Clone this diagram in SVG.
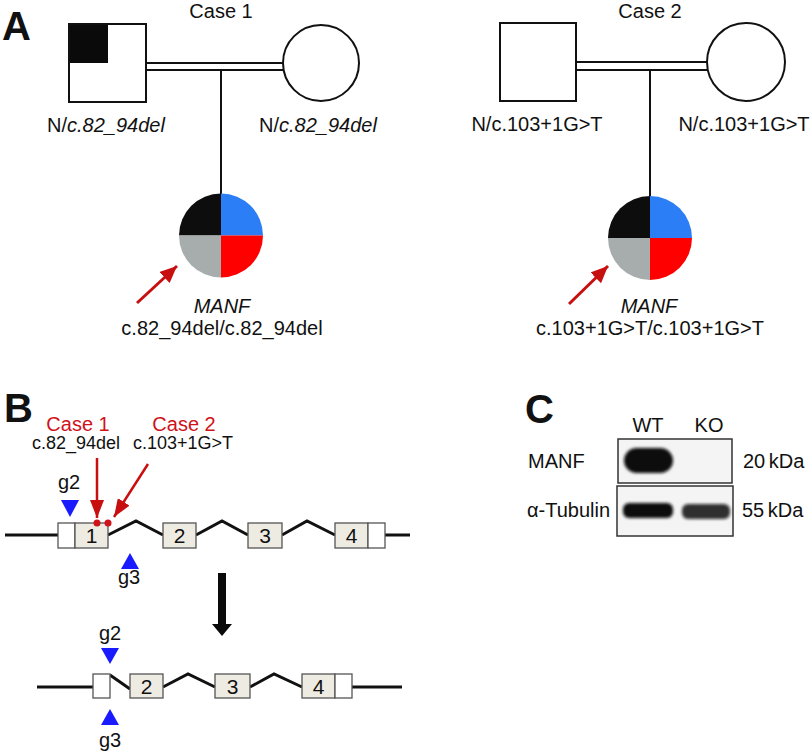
<svg xmlns="http://www.w3.org/2000/svg" width="812" height="754" viewBox="0 0 812 754">
<style>
text{font-family:"Liberation Sans",Arial,sans-serif;fill:#111}
.t{font-size:20px}
.s{font-size:18px}
.n{font-size:21px}
.it{font-style:italic}
.lbl{font-size:40px;font-weight:bold}
.red{fill:#d0121b}
.ped{fill:#fff;stroke:#111;stroke-width:2}
.ln{stroke:#111;stroke-width:2;fill:none}
.gl{stroke:#111;stroke-width:3;fill:none;stroke-linejoin:miter}
.ex{fill:#eeebe2;stroke:#555;stroke-width:1.3}
.utr{fill:#fff;stroke:#555;stroke-width:1.3}
.ra{stroke:#c80f0f;stroke-width:3;fill:none}
.rb{stroke:#c80f0f;stroke-width:2.5;fill:none}
.tri{fill:#1a1aff}
.blot{fill:#f4f4f4;stroke:#333;stroke-width:1.5}
.band{fill:#0e0e0e;filter:url(#bl)}
</style>
<defs>
<marker id="ah" markerUnits="userSpaceOnUse" markerWidth="17" markerHeight="15" refX="17" refY="7.5" orient="auto"><path d="M0,0 L17,7.5 L0,15 z" fill="#c80f0f"/></marker>
<marker id="ahb" markerUnits="userSpaceOnUse" markerWidth="18" markerHeight="14" refX="18" refY="7" orient="auto"><path d="M0,0 L18,7 L0,14 z" fill="#c80f0f"/></marker>
<filter id="bl" x="-20%" y="-40%" width="140%" height="180%"><feGaussianBlur stdDeviation="1.6"/></filter>
</defs>

<!-- Panel labels -->
<text class="lbl" x="2" y="40">A</text>
<text class="lbl" x="4" y="422">B</text>
<text class="lbl" x="525" y="423">C</text>

<!-- Connectors -->
<g id="connectors">
  <line class="ln" x1="146" y1="63" x2="283" y2="63"/>
  <line class="ln" x1="146" y1="70" x2="283" y2="70"/>
  <line class="ln" x1="221" y1="70" x2="221" y2="194"/>
  <line class="ln" x1="576" y1="62" x2="707" y2="62"/>
  <line class="ln" x1="576" y1="70" x2="707" y2="70"/>
  <line class="ln" x1="650" y1="70" x2="650" y2="196"/>
  <line class="ra" x1="137" y1="303" x2="177" y2="266" marker-end="url(#ah)"/>
  <line class="ra" x1="569" y1="304" x2="608" y2="266" marker-end="url(#ah)"/>
  <line class="rb" x1="97" y1="458" x2="97" y2="518" marker-end="url(#ahb)"/>
  <line class="rb" x1="148" y1="464" x2="114" y2="517" marker-end="url(#ahb)"/>
  <polygon points="218,573 226,573 226,624 232,624 222,636 212,624 218,624" fill="#0a0a0a"/>
</g>

<!-- Case 1 pedigree -->
<text class="t" x="221" y="18" text-anchor="middle">Case 1</text>
<g id="c1-father">
  <rect class="ped" x="69" y="24" width="77" height="78"/>
  <rect x="70" y="25" width="38" height="38" fill="#0a0a0a"/>
  <text class="t" x="106" y="132" text-anchor="middle">N/<tspan class="it">c.82_94del</tspan></text>
</g>
<g id="c1-mother">
  <circle class="ped" cx="321" cy="63" r="38"/>
  <text class="t" x="318" y="132" text-anchor="middle">N/<tspan class="it">c.82_94del</tspan></text>
</g>
<g id="c1-proband">
  <path d="M221,235.5 L221,193.5 A42,42 0 0 0 179,235.5 Z" fill="#0d0d0d"/>
  <path d="M221,235.5 L263,235.5 A42,42 0 0 0 221,193.5 Z" fill="#2b7ef5"/>
  <path d="M221,235.5 L179,235.5 A42,42 0 0 0 221,277.5 Z" fill="#a7adad"/>
  <path d="M221,235.5 L221,277.5 A42,42 0 0 0 263,235.5 Z" fill="#ff0000"/>
  <text class="t it" x="222" y="313" text-anchor="middle">MANF</text>
  <text class="t" x="222" y="335" text-anchor="middle">c.82_94del/c.82_94del</text>
</g>

<!-- Case 2 pedigree -->
<text class="t" x="650" y="18" text-anchor="middle">Case 2</text>
<g id="c2-father">
  <rect class="ped" x="500" y="23" width="76" height="78"/>
  <text class="t" x="537" y="131" text-anchor="middle">N/c.103+1G&gt;T</text>
</g>
<g id="c2-mother">
  <circle class="ped" cx="746" cy="62" r="39"/>
  <text class="t" x="744" y="131" text-anchor="middle">N/c.103+1G&gt;T</text>
</g>
<g id="c2-proband">
  <path d="M650,238 L650,196 A42,42 0 0 0 608,238 Z" fill="#0d0d0d"/>
  <path d="M650,238 L692,238 A42,42 0 0 0 650,196 Z" fill="#2b7ef5"/>
  <path d="M650,238 L608,238 A42,42 0 0 0 650,280 Z" fill="#a7adad"/>
  <path d="M650,238 L650,280 A42,42 0 0 0 692,238 Z" fill="#ff0000"/>
  <text class="t it" x="649" y="313" text-anchor="middle">MANF</text>
  <text class="t" x="650" y="335" text-anchor="middle">c.103+1G&gt;T/c.103+1G&gt;T</text>
</g>

<!-- Panel B -->
<g id="b-labels">
  <text class="t red" x="78" y="431" text-anchor="middle">Case 1</text>
  <text class="s" x="76" y="449" text-anchor="middle">c.82_94del</text>
  <text class="t red" x="184" y="431" text-anchor="middle">Case 2</text>
  <text class="s" x="183" y="449" text-anchor="middle">c.103+1G&gt;T</text>
</g>
<g id="gene-wt">
  <path class="gl" d="M5,535 L58,535 M108,535 L136,521 L163,535 M196,535 L222,521 L248,535 M282,535 L307,521 L335,535 M385,535 L410,535"/>
  <rect class="utr" x="58" y="523" width="17" height="25"/>
  <rect class="ex" x="75" y="523" width="33" height="25"/>
  <text class="n" x="91.5" y="543" text-anchor="middle">1</text>
  <rect class="ex" x="163" y="523" width="33" height="25"/>
  <text class="n" x="179.5" y="543" text-anchor="middle">2</text>
  <rect class="ex" x="248" y="523" width="34" height="25"/>
  <text class="n" x="265" y="543" text-anchor="middle">3</text>
  <rect class="ex" x="335" y="523" width="33" height="25"/>
  <text class="n" x="351.5" y="543" text-anchor="middle">4</text>
  <rect class="utr" x="368" y="523" width="17" height="25"/>
  <circle cx="97" cy="523" r="3.5" fill="#d0121b"/>
  <circle cx="108" cy="523" r="3.5" fill="#d0121b"/>
</g>
<g id="g2-top">
  <text class="t" x="69" y="489" text-anchor="middle">g2</text>
  <polygon class="tri" points="61,500 79,500 70,517"/>
</g>
<g id="g3-top">
  <polygon class="tri" points="121,569 139,569 130,553"/>
  <text class="t" x="129" y="584" text-anchor="middle">g3</text>
</g>
<g id="gene-ko">
  <path class="gl" d="M37,687 L93,687 M110,675 L130,689 M163,687 L188,674 L215,687 M250,687 L274,674 L302,687 M352,687 L402,687"/>
  <rect class="utr" x="93" y="674" width="17" height="24"/>
  <rect class="ex" x="130" y="674" width="33" height="24"/>
  <text class="n" x="146.5" y="694" text-anchor="middle">2</text>
  <rect class="ex" x="215" y="674" width="35" height="24"/>
  <text class="n" x="232.5" y="694" text-anchor="middle">3</text>
  <rect class="ex" x="302" y="674" width="33" height="24"/>
  <text class="n" x="318.5" y="694" text-anchor="middle">4</text>
  <rect class="utr" x="335" y="674" width="17" height="24"/>
</g>
<g id="g2-bottom">
  <text class="t" x="110" y="640" text-anchor="middle">g2</text>
  <polygon class="tri" points="101,648 119,648 110,664"/>
</g>
<g id="g3-bottom">
  <polygon class="tri" points="101,725 119,725 110,709"/>
  <text class="t" x="110" y="747" text-anchor="middle">g3</text>
</g>

<!-- Panel C -->
<g id="blot">
  <text class="t" x="648" y="432" text-anchor="middle">WT</text>
  <text class="t" x="709" y="432" text-anchor="middle">KO</text>
  <text class="t" x="528" y="468">MANF</text>
  <rect class="blot" x="618" y="439" width="114" height="44"/>
  <rect class="band" x="624" y="448" width="49" height="25" rx="12.5"/>
  <text class="t" x="743" y="468" word-spacing="-2">20 kDa</text>
  <text class="t" x="527" y="517">α-Tubulin</text>
  <rect class="blot" x="617" y="486" width="116" height="50"/>
  <rect class="band" x="623" y="503" width="50" height="15" rx="6"/>
  <rect class="band" x="682" y="504" width="48" height="15" rx="6" opacity="0.85"/>
  <text class="t" x="742" y="517" word-spacing="-2">55 kDa</text>
</g>
</svg>
